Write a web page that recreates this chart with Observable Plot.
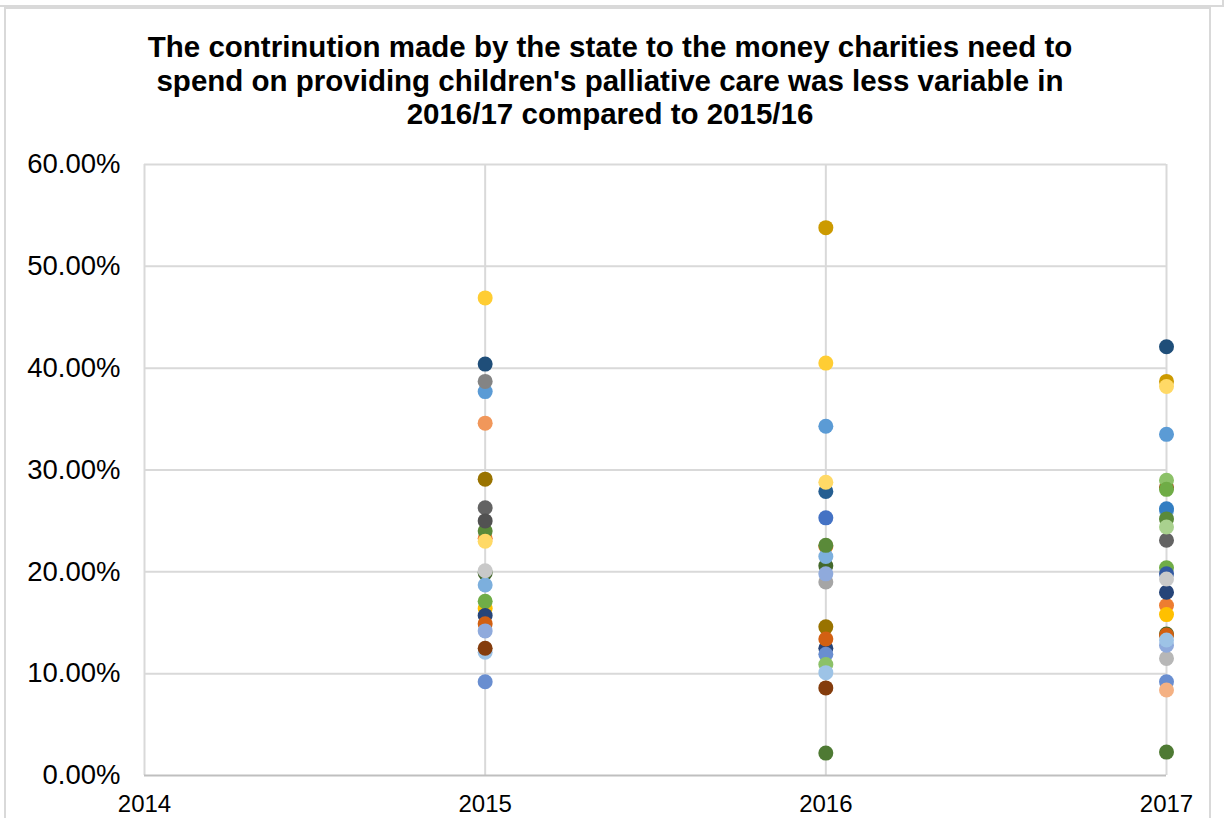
<!DOCTYPE html>
<html>
<head>
<meta charset="utf-8">
<script src="https://cdn.jsdelivr.net/npm/d3@7"></script>
<script src="https://cdn.jsdelivr.net/npm/@observablehq/plot@0.6"></script>
<style>
  html, body { margin: 0; padding: 0; background: #fff; }
  #wrap { position: relative; width: 1224px; height: 818px; overflow: hidden; font-family: "Liberation Sans", Arial, sans-serif; }
  #prevbox { position: absolute; left: -4px; top: -10px; width: 1224px; height: 13px; border: 2px solid #d9d9d9; }
  #box { position: absolute; left: 4px; top: 7px; width: 1203px; height: 830px; border: 2px solid #d9d9d9; }
  #title { position: absolute; left: 0; top: 30px; width: 1220px; text-align: center; font-weight: bold; font-size: 29.5px; line-height: 33.5px; color: #000; }
  #chart { position: absolute; left: 0; top: 130px; }
</style>
</head>
<body>
<div id="wrap">
  <div id="prevbox"></div>
  <div id="box"></div>
  <div id="title">The contrinution made by the state to the money charities need to<br>spend on providing children's palliative care was less variable in<br>2016/17 compared to 2015/16</div>
  <div id="chart"></div>
</div>
<script>
// Data (percent values); null = no point for that year
const years = [2015, 2016, 2017];
const xTicks = [2014, 2015, 2016, 2017];
const yTicks = [0, 0.1, 0.2, 0.3, 0.4, 0.5, 0.6];
const series = Array.from({length: 35}, (_, i) => "Charity " + (i + 1));
const palette = [
  "#4472C4", "#ED7D31", "#A5A5A5", "#FFC000", "#5B9BD5", "#70AD47", "#264478",
  "#9E480E", "#636363", "#997300", "#255E91", "#43682B", "#698ED0", "#F1975A",
  "#B7B7B7", "#FFCD33", "#7CAFDD", "#8CC168", "#335AA1", "#D26012", "#848484",
  "#CC9A00", "#327DC2", "#5A8A39", "#8FAADC", "#F4B183", "#C9C9C9", "#FFD966",
  "#9DC3E6", "#A9D18E", "#6FAC46", "#843C0C", "#525252", "#1F4E79", "#4E7A33"
];
const v2015 = [null, 23.3, null, 16.4, 37.7, 17.1, 15.7, null, 26.3, 29.1, null, 19.9, 9.2, 34.6, null, 46.9, 18.7, null, null, 14.9, 38.7, null, null, 24.0, 14.2, null, 20.1, 23.0, 12.1, null, null, 12.5, 25.0, 40.4, null];
const v2016 = [25.3, 22.5, 19.0, null, 34.3, null, 12.5, null, null, 14.6, 27.9, 20.6, 11.9, null, null, 40.5, 21.5, 10.9, null, 13.4, null, 53.8, null, 22.6, 19.8, null, null, 28.8, 10.1, null, null, 8.6, null, null, 2.2];
const v2017 = [null, 16.7, null, 15.8, 33.5, 20.4, 18.0, 28.3, 23.1, null, null, 13.9, 9.2, null, 11.5, null, 26.0, 29.0, 19.8, 13.8, null, 38.7, 26.2, 25.2, 12.8, 8.4, 19.3, 38.2, 13.3, 24.4, 28.1, null, null, 42.1, 2.3];

const valuesByYear = [v2015, v2016, v2017];
const rows = [];
series.forEach((s, i) => {
  years.forEach((yr, j) => {
    const v = valuesByYear[j][i];
    if (v != null) rows.push({series: s, year: yr, value: v / 100});
  });
});

const grid = "#d9d9d9";
const chart = Plot.plot({
  width: 1224,
  height: 688,
  marginTop: 34,
  marginBottom: 43,
  marginLeft: 144,
  marginRight: 58,
  style: {fontFamily: "'Liberation Sans', Arial, sans-serif", background: "transparent", color: "#000"},
  x: {domain: [2014, 2017], ticks: xTicks, tickFormat: d => String(d), tickSize: 0, tickPadding: 20, label: null},
  y: {domain: [0, 0.6], ticks: yTicks, tickFormat: d3.format(".2%"), tickSize: 0, tickPadding: 24, label: null},
  color: {type: "ordinal", domain: series, range: palette},
  marks: [
    Plot.ruleY(yTicks.slice(1), {stroke: grid, strokeWidth: 2}),
    Plot.ruleX(xTicks, {stroke: grid, strokeWidth: 2}),
    Plot.ruleY([0], {stroke: "#bfbfbf", strokeWidth: 2}),
    Plot.axisY({ticks: yTicks, tickFormat: d3.format(".2%"), tickSize: 0, tickPadding: 24, fontSize: 27.5, label: null}),
    Plot.axisX({ticks: xTicks, tickFormat: d => String(d), tickSize: 0, tickPadding: 19, fontSize: 24, label: null}),
    Plot.dot(rows, {x: "year", y: "value", fill: "series", r: 7.5, stroke: "none"})
  ]
});
document.getElementById("chart").appendChild(chart);
</script>
</body>
</html>
